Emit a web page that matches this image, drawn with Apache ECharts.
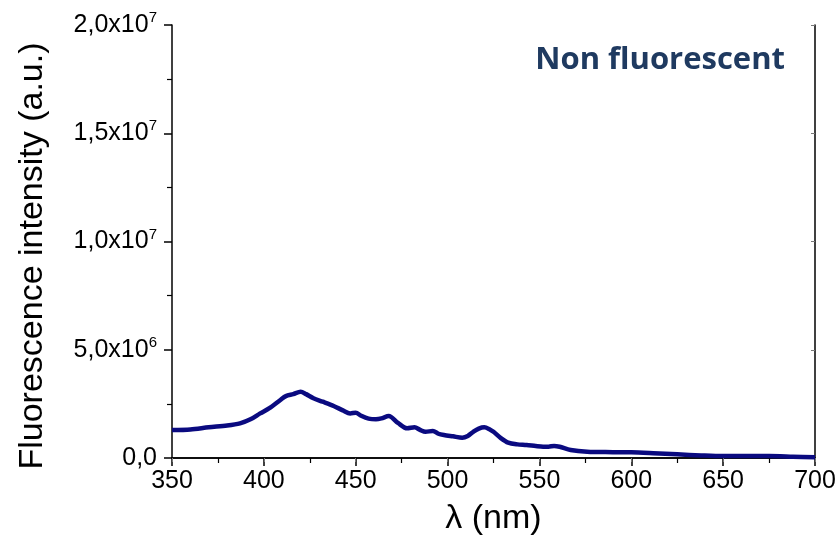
<!DOCTYPE html>
<html>
<head>
<meta charset="utf-8">
<script src="https://cdn.jsdelivr.net/npm/echarts@6/dist/echarts.min.js"></script>
<style>
  html, body { margin: 0; padding: 0; background: #fff; }
  #chart { width: 840px; height: 541px; }
</style>
</head>
<body>
<div id="chart"></div>
<script>
// wavelength (nm) and intensity (a.u.)
const wavelength = [350, 360, 370, 380, 387, 393, 398, 403, 409, 412, 416, 420, 423, 427, 432, 438, 443, 447, 450, 453, 457, 461, 464, 468, 473, 478, 482, 485, 488, 492, 495, 498, 503, 508, 511, 514, 517, 520, 523, 525, 529, 533, 538, 543, 548, 552, 555, 558, 561, 567, 576, 590, 600, 612, 625, 638, 650, 663, 675, 688, 700];
const intensity = [1.29e6, 1.32e6, 1.42e6, 1.5e6, 1.6e6, 1.8e6, 2.06e6, 2.3e6, 2.68e6, 2.86e6, 2.95e6, 3.06e6, 2.95e6, 2.76e6, 2.6e6, 2.4e6, 2.2e6, 2.06e6, 2.09e6, 1.95e6, 1.82e6, 1.79e6, 1.83e6, 1.94e6, 1.62e6, 1.37e6, 1.42e6, 1.3e6, 1.21e6, 1.25e6, 1.12e6, 1.06e6, 1.0e6, 0.94e6, 1.02e6, 1.21e6, 1.36e6, 1.42e6, 1.32e6, 1.21e6, 0.92e6, 0.71e6, 0.63e6, 0.6e6, 0.55e6, 0.52e6, 0.52e6, 0.56e6, 0.52e6, 0.37e6, 0.29e6, 0.27e6, 0.26e6, 0.22e6, 0.17e6, 0.12e6, 0.09e6, 0.09e6, 0.09e6, 0.06e6, 0.03e6];

const xTicks = [350, 400, 450, 500, 550, 600, 650, 700];
const yTickLabels = ['0,0', '5,0x10{sup|6}', '1,0x10{sup|7}', '1,5x10{sup|7}', '2,0x10{sup|7}'];

const chart = echarts.init(document.getElementById('chart'), null, { renderer: 'canvas' });

const axisLine = { show: true, lineStyle: { color: '#000', width: 1.5 } };

const option = {
  animation: false,
  backgroundColor: '#fff',
  grid: { left: 172, right: 25, top: 25, bottom: 83, show: false },
  xAxis: [{
    type: 'value',
    min: 350,
    max: 700,
    interval: 50,
    name: 'λ (nm)',
    nameLocation: 'middle',
    nameGap: 44,
    nameTextStyle: { fontFamily: 'Liberation Sans', fontSize: 34, color: '#000' },
    axisLine: axisLine,
    axisTick: { show: true, inside: false, length: 8, lineStyle: { color: '#000', width: 1.5 } },
    minorTick: { show: true, splitNumber: 2, length: 5, lineStyle: { color: '#000', width: 1.2 } },
    splitLine: { show: false },
    axisLabel: { fontFamily: 'Liberation Sans', fontSize: 25, color: '#000', margin: 11 }
  }, {
    type: 'value',
    position: 'top',
    min: 350,
    max: 700,
    interval: 50,
    axisLine: axisLine,
    axisTick: { show: true, inside: true, length: 4, lineStyle: { color: '#777', width: 1 } },
    axisLabel: { show: false },
    splitLine: { show: false }
  }],
  yAxis: [{
    type: 'value',
    min: 0,
    max: 2e7,
    interval: 5e6,
    axisLine: axisLine,
    axisTick: { show: true, inside: false, length: 8, lineStyle: { color: '#000', width: 1.5 } },
    minorTick: { show: true, splitNumber: 2, length: 5, lineStyle: { color: '#000', width: 1.2 } },
    splitLine: { show: false },
    axisLabel: {
      margin: 15,
      formatter: function (v) { return yTickLabels[Math.round(v / 5e6)]; },
      fontFamily: 'Liberation Sans',
      fontSize: 25,
      color: '#000',
      rich: {
        sup: { fontFamily: 'Liberation Sans', fontSize: 15, color: '#000', verticalAlign: 'top', padding: [0, 0, 14, 0] }
      }
    }
  }, {
    type: 'value',
    position: 'right',
    min: 0,
    max: 2e7,
    interval: 5e6,
    axisLine: axisLine,
    axisTick: { show: true, inside: true, length: 4, lineStyle: { color: '#777', width: 1 } },
    axisLabel: { show: false },
    splitLine: { show: false }
  }],
  graphic: [{
    type: 'text',
    x: 33,
    y: 256,
    rotation: Math.PI / 2,
    style: {
      text: 'Fluorescence intensity (a.u.)',
      font: '34px "Liberation Sans"',
      fill: '#000',
      align: 'center',
      verticalAlign: 'middle'
    }
  }, {
    type: 'text',
    right: 55,
    top: 45,
    style: {
      text: 'Non fluorescent',
      font: 'bold 31px "Open Sans"',
      fill: '#1f3a60'
    }
  }],
  series: [{
    type: 'line',
    data: wavelength.map((w, i) => [w, intensity[i]]),
    showSymbol: false,
    smooth: 0.3,
    lineStyle: { color: '#0a0a80', width: 4.5 },
    itemStyle: { color: '#0a0a80' }
  }]
};

chart.setOption(option);
</script>
</body>
</html>
